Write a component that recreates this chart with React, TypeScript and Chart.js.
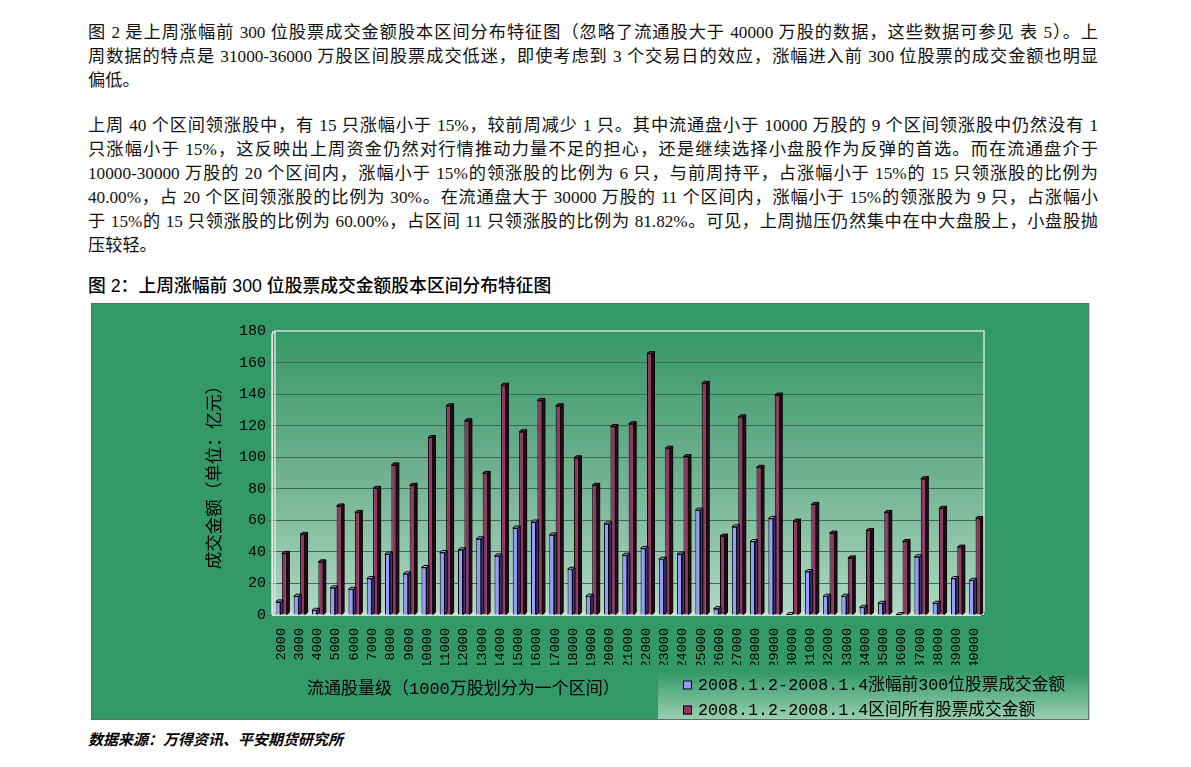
import React, { useEffect, useRef } from "react";
import { Chart, registerables } from "chart.js";

Chart.register(...registerables);

// ---------------- data ----------------
const categories = [
  "2000", "3000", "4000", "5000", "6000", "7000", "8000", "9000", "10000", "11000",
  "12000", "13000", "14000", "15000", "16000", "17000", "18000", "19000", "20000", "21000",
  "22000", "23000", "24000", "25000", "26000", "27000", "28000", "29000", "30000", "31000",
  "32000", "33000", "34000", "35000", "36000", "37000", "38000", "39000", "40000",
];

const top300Values = [
  8.3, 11.9, 3.0, 17.2, 16.3, 23.1, 38.6, 26.1, 30.1, 39.6,
  41.3, 48.3, 37.5, 55.1, 58.9, 50.8, 29.0, 11.9, 57.8, 37.9,
  42.2, 35.4, 38.6, 66.5, 4.0, 55.9, 46.6, 61.2, 0.3, 27.5,
  11.9, 11.9, 4.9, 7.4, 0.2, 36.9, 7.4, 23.1, 22.0,
];

const allStockValues = [
  39.0, 51.1, 33.7, 69.1, 65.0, 80.3, 95.1, 82.2, 112.5, 132.6,
  123.1, 89.8, 145.6, 116.1, 136.0, 132.6, 99.6, 82.2, 119.5, 121.2,
  165.7, 105.7, 100.4, 146.8, 50.0, 125.6, 93.6, 139.4, 59.5, 70.1,
  51.9, 36.2, 53.6, 65.0, 46.6, 86.4, 67.6, 43.0, 61.2,
];

const seriesLabels = [
  "2008.1.2-2008.1.4涨幅前300位股票成交金额",
  "2008.1.2-2008.1.4区间所有股票成交金额",
];
const seriesColors = ["#9999ff", "#993366"];
const sideColors = ["#3a3a80", "#2e0a1c"];
const topColors = ["#b0b0f0", "#7a2448"];

const yMin = 0;
const yMax = 180;
const yStep = 20;

const yTitle = "成交金额（单位：亿元）";
const xTitle = "流通股量级（1000万股划分为一个区间）";

const para1 = [
  "图 2 是上周涨幅前 300 位股票成交金额股本区间分布特征图（忽略了流通股大于 40000 万股的数据，这些数据可参见 表 5）。上",
  "周数据的特点是 31000-36000 万股区间股票成交低迷，即使考虑到 3 个交易日的效应，涨幅进入前 300 位股票的成交金额也明显",
  "偏低。",
];
const para1Y = [33, 57, 81];
const para2 = [
  "上周 40 个区间领涨股中，有 15 只涨幅小于 15%，较前周减少 1 只。其中流通盘小于 10000 万股的 9 个区间领涨股中仍然没有 1",
  "只涨幅小于 15%，这反映出上周资金仍然对行情推动力量不足的担心，还是继续选择小盘股作为反弹的首选。而在流通盘介于",
  "10000-30000 万股的 20 个区间内，涨幅小于 15%的领涨股的比例为 6 只，与前周持平，占涨幅小于 15%的 15 只领涨股的比例为",
  "40.00%，占 20 个区间领涨股的比例为 30%。在流通盘大于 30000 万股的 11 个区间内，涨幅小于 15%的领涨股为 9 只，占涨幅小",
  "于 15%的 15 只领涨股的比例为 60.00%，占区间 11 只领涨股的比例为 81.82%。可见，上周抛压仍然集中在中大盘股上，小盘股抛",
  "压较轻。",
];
const para2Y = [126, 150, 174, 198, 222, 246];
const figTitle = "图 2：上周涨幅前 300 位股票成交金额股本区间分布特征图";
const sourceText = "数据来源：万得资讯、平安期货研究所";

// ---------------- drawing helpers ----------------
const DX = 2.5;
const DY = 2;
const LEGEND_BOX = { left: 566, top: 367 };
const LEGEND_ITEMS_Y = [381, 406];
const LEGEND_MARK_X = 591;
const LEGEND_TEXT_X = 606;
const XTITLE_POS = { x: 215, y: 385 };
const CJK_MONO = '"Liberation Mono", "Noto Sans CJK SC", monospace';

const decorPlugin = {
  id: "decor3d",
  beforeDraw(chart: any) {
    const { ctx, chartArea: a, width, height } = chart;
    ctx.save();
    ctx.fillStyle = "#339966";
    ctx.fillRect(0, 0, width, height);
    const g = ctx.createLinearGradient(0, a.top, 0, a.bottom);
    g.addColorStop(0, "#379867");
    g.addColorStop(0.5, "#6fb18f");
    g.addColorStop(1, "#afdac4");
    ctx.fillStyle = g;
    ctx.fillRect(a.left, a.top, a.right - a.left, a.bottom - a.top);
    // legend background
    const lg = ctx.createLinearGradient(0, LEGEND_BOX.top, 0, height);
    lg.addColorStop(0, "#339966");
    lg.addColorStop(1, "#98cfb1");
    ctx.fillStyle = lg;
    ctx.fillRect(LEGEND_BOX.left, LEGEND_BOX.top, width - LEGEND_BOX.left, height - LEGEND_BOX.top);
    ctx.restore();
  },
  beforeDatasetsDraw(chart: any) {
    const { ctx, chartArea: a } = chart;
    ctx.save();
    ctx.fillStyle = "#d6dcd8";
    ctx.beginPath();
    ctx.moveTo(a.left, a.bottom + 1);
    ctx.lineTo(a.right - 3, a.bottom + 1);
    ctx.lineTo(a.right, a.bottom - 3);
    ctx.lineTo(a.left + 3, a.bottom - 3);
    ctx.closePath();
    ctx.fill();
    ctx.restore();
  },
  afterDatasetDraw(chart: any, args: any) {
    const { ctx } = chart;
    const i = args.index;
    const meta = chart.getDatasetMeta(i);
    ctx.save();
    ctx.lineWidth = 1;
    ctx.strokeStyle = "#000";
    meta.data.forEach((bar: any) => {
      const { x, y, base, width } = bar.getProps(["x", "y", "base", "width"], true);
      const l = x - width / 2;
      const r = x + width / 2;
      // side face
      ctx.fillStyle = sideColors[i];
      ctx.beginPath();
      ctx.moveTo(r, y);
      ctx.lineTo(r + DX, y - DY);
      ctx.lineTo(r + DX, base - DY);
      ctx.lineTo(r, base);
      ctx.closePath();
      ctx.fill();
      ctx.stroke();
      // top face
      ctx.fillStyle = topColors[i];
      ctx.beginPath();
      ctx.moveTo(l, y);
      ctx.lineTo(l + DX, y - DY);
      ctx.lineTo(r + DX, y - DY);
      ctx.lineTo(r, y);
      ctx.closePath();
      ctx.fill();
      ctx.stroke();
    });
    ctx.restore();
  },
  afterDraw(chart: any) {
    const { ctx, chartArea: a } = chart;
    ctx.save();
    // plot walls border
    ctx.strokeStyle = "rgba(225,230,225,0.95)";
    ctx.lineWidth = 1.5;
    ctx.beginPath();
    ctx.moveTo(a.left + 3, a.bottom - 3);
    ctx.lineTo(a.left + 3, a.top);
    ctx.lineTo(a.right, a.top);
    ctx.lineTo(a.right, a.bottom - 3);
    ctx.stroke();
    ctx.beginPath();
    ctx.moveTo(a.left, a.bottom);
    ctx.lineTo(a.left, a.top + 3);
    ctx.lineTo(a.left + 3, a.top);
    ctx.stroke();

    // x axis title
    ctx.fillStyle = "#000";
    ctx.font = `17px ${CJK_MONO}`;
    ctx.textBaseline = "middle";
    ctx.textAlign = "left";
    ctx.fillText(xTitle, XTITLE_POS.x, XTITLE_POS.y);

    // legend
    ctx.font = `16.7px ${CJK_MONO}`;
    chart.data.datasets.forEach((ds: any, i: number) => {
      const cy = LEGEND_ITEMS_Y[i];
      ctx.fillStyle = ds.backgroundColor;
      ctx.fillRect(LEGEND_MARK_X, cy - 4.5, 9, 9);
      ctx.strokeStyle = "#000";
      ctx.lineWidth = 1;
      ctx.strokeRect(LEGEND_MARK_X + 0.5, cy - 4.5 + 0.5, 8, 8);
      ctx.fillStyle = "#000";
      ctx.fillText(ds.label, LEGEND_TEXT_X, cy + 1);
    });
    ctx.restore();
  },
};

function ChartBox() {
  const canvasRef = useRef<HTMLCanvasElement | null>(null);
  useEffect(() => {
    if (!canvasRef.current) return;
    const chart = new Chart(canvasRef.current, {
      type: "bar",
      data: {
        labels: categories,
        datasets: [
          {
            label: seriesLabels[0],
            data: top300Values,
            backgroundColor: seriesColors[0],
            borderColor: "#000",
            borderWidth: 1,
            categoryPercentage: 0.7,
            barPercentage: 0.78,
          },
          {
            label: seriesLabels[1],
            data: allStockValues,
            backgroundColor: seriesColors[1],
            borderColor: "#000",
            borderWidth: 1,
            categoryPercentage: 0.7,
            barPercentage: 0.78,
          },
        ],
      },
      options: {
        responsive: true,
        maintainAspectRatio: false,
        animation: false,
        layout: { padding: { left: 108, right: 104, top: 27, bottom: 54 } },
        plugins: {
          legend: { display: false },
          tooltip: { enabled: false },
        },
        scales: {
          x: {
            grid: { display: false },
            border: { display: false },
            ticks: {
              autoSkip: false,
              minRotation: 90,
              maxRotation: 90,
              padding: 5,
              color: "#000",
              font: { family: '"Liberation Mono", monospace', size: 13.5 },
            },
            afterFit: (s: any) => {
              s.height = 50;
            },
          },
          y: {
            min: yMin,
            max: yMax,
            ticks: {
              stepSize: yStep,
              padding: 2,
              color: "#000",
              font: { family: '"Liberation Mono", monospace', size: 15 },
            },
            grid: {
              color: "rgba(55,95,72,0.9)",
              lineWidth: 1,
              drawTicks: true,
              tickLength: 4,
              tickColor: "rgba(70,110,85,0.9)",
            },
            border: { display: true, color: "rgba(225,230,225,0.95)", width: 1 },
            title: {
              display: true,
              text: yTitle,
              color: "#000",
              font: { family: '"Noto Sans CJK SC", sans-serif', size: 17.5 },
              padding: { top: 3, bottom: 0 },
            },
            afterFit: (s: any) => {
              s.width = 72;
            },
          },
        },
      },
      plugins: [decorPlugin],
    });
    return () => chart.destroy();
  }, []);
  return (
    <div style={{ position: "absolute", left: 0, top: 0, width: 996, height: 415 }}>
      <canvas ref={canvasRef} />
    </div>
  );
}

const bodyFont = '"Liberation Serif", "Noto Sans CJK SC", serif';

function Line({ text, y, last }: { text: string; y: number; last: boolean }) {
  return (
    <div
      style={{
        position: "absolute",
        left: 88,
        top: y - 12,
        width: 1010,
        height: 24,
        lineHeight: "24px",
        fontSize: 17.2,
        fontFamily: bodyFont,
        color: "#111",
        textAlign: last ? "left" : "justify",
        textAlignLast: last ? "left" : "justify",
        whiteSpace: "normal",
        overflow: "hidden",
      }}
    >
      {text}
    </div>
  );
}

export default function App() {
  return (
    <div style={{ position: "absolute", left: 0, top: 0, width: 1191, height: 767, background: "#fff", overflow: "hidden" }}>
      {para1.map((t, i) => (
        <Line key={"a" + i} text={t} y={para1Y[i]} last={i === para1.length - 1} />
      ))}
      {para2.map((t, i) => (
        <Line key={"b" + i} text={t} y={para2Y[i]} last={i === para2.length - 1} />
      ))}
      <div
        style={{
          position: "absolute",
          left: 88,
          top: 274,
          height: 24,
          lineHeight: "24px",
          fontSize: 17.8,
          fontWeight: 500,
          fontFamily: '"Liberation Sans", "Noto Sans CJK SC", sans-serif',
          color: "#000",
          whiteSpace: "nowrap",
        }}
      >
        {figTitle}
      </div>
      <div
        style={{
          position: "absolute",
          left: 91,
          top: 303,
          width: 998,
          height: 417,
          boxSizing: "border-box",
          border: "1px solid #5f6f66",
          background: "#339966",
          boxShadow: "1px 0 0 #d8d8d8",
        }}
      >
        <ChartBox />
      </div>
      <div
        style={{
          position: "absolute",
          left: 88,
          top: 728,
          height: 22,
          lineHeight: "22px",
          fontSize: 15,
          fontStyle: "italic",
          fontWeight: 700,
          fontFamily: '"Noto Sans CJK SC", sans-serif',
          color: "#000",
          whiteSpace: "nowrap",
        }}
      >
        {sourceText}
      </div>
    </div>
  );
}
